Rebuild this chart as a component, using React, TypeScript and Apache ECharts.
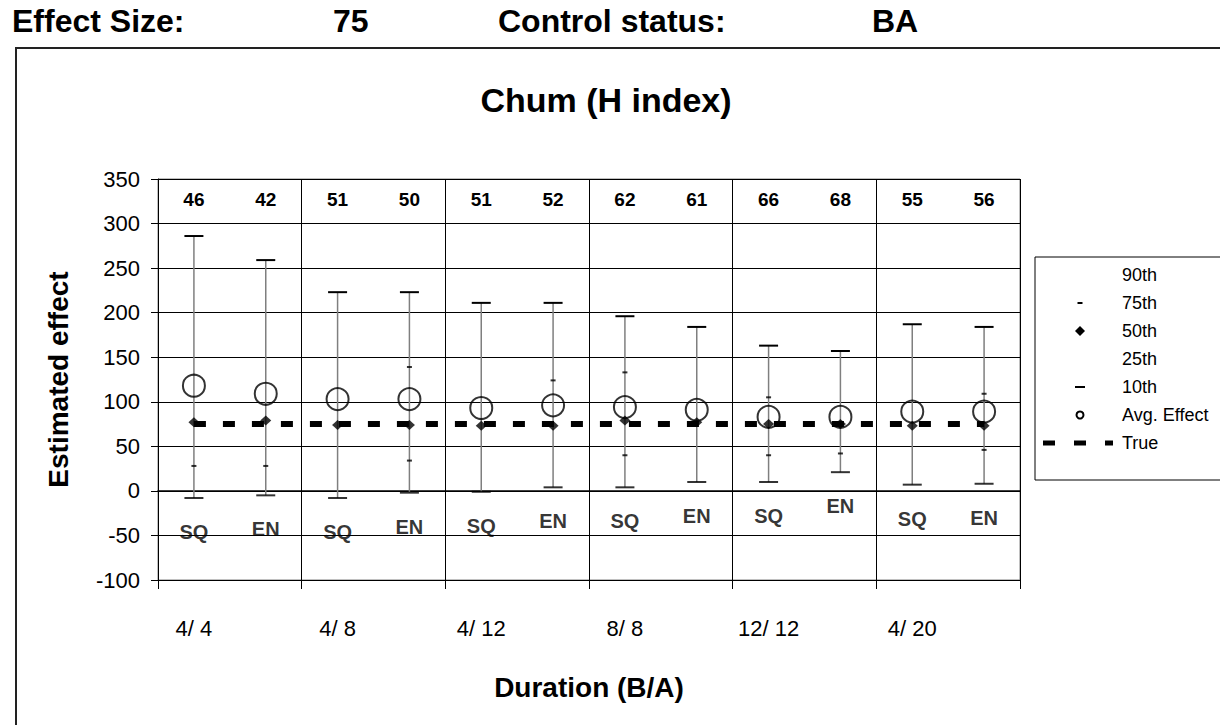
import React, { useEffect, useRef } from "react";
import * as echarts from "echarts";

// ---- data ----
const groups = ["4/ 4", "4/ 8", "4/ 12", "8/ 8", "12/ 12", "4/ 20"];
const designs = ["SQ", "EN", "SQ", "EN", "SQ", "EN", "SQ", "EN", "SQ", "EN", "SQ", "EN"];
const counts = [46, 42, 51, 50, 51, 52, 62, 61, 66, 68, 55, 56];
const p90 = [286, 259, 223, 223, 211, 211, 196, 184, 163, 157, 187, 184];
const p75 = [null, null, null, 139, null, 124, 133, null, 105, null, null, 109];
const p50 = [77, 79, 74, 74, 73, 73, 79, 77, 75, 75, 73, 73];
const p25 = [28, 28, null, 34, null, null, 40, null, 40, 42, null, 46];
const p10 = [-8, -5, -8, -2, -1, 4, 4, 10, 10, 21, 7, 8];
const avgEffect = [118, 109, 103, 103, 93, 96, 94, 91, 83, 83, 89, 89];
const trueEffect = [75, 75, 75, 75, 75, 75, 75, 75, 75, 75, 75, 75];
const yMin = -100;
const yMax = 350;
const yStep = 50;

const categories = designs.map((d, i) => groups[Math.floor(i / 2)] + " " + d);
const FONT = "'Liberation Sans', Arial, Helvetica, sans-serif";

export default function App() {
  const ref = useRef<HTMLDivElement>(null);
  useEffect(() => {
    if (!ref.current) return;
    const chart = echarts.init(ref.current, undefined, { renderer: "svg" });
    const legendItems = ["90th", "75th", "50th", "25th", "10th", "Avg. Effect", "True"];
    const lx = 1035, ly = 257, lTextX = 1122, lSymX = 1080, lStartY = 275, lStep = 28;
    const legendGraphics: any[] = [
      { type: "rect", shape: { x: lx, y: ly, width: 210, height: 223 }, style: { fill: "#fff", stroke: "#000", lineWidth: 1 }, z: 10 },
    ];
    legendItems.forEach((name, i) => {
      legendGraphics.push({
        type: "text", x: lTextX, y: lStartY + i * lStep, z: 11,
        style: { text: name, fontSize: 18, fontFamily: FONT, fill: "#000", verticalAlign: "middle", align: "left" },
      });
    });
    legendGraphics.push(
      { type: "rect", shape: { x: lSymX - 2.5, y: lStartY + lStep - 1, width: 5, height: 2 }, style: { fill: "#000" }, z: 11 },
      { type: "polygon", shape: { points: [[lSymX, lStartY + 2 * lStep - 5], [lSymX + 5, lStartY + 2 * lStep], [lSymX, lStartY + 2 * lStep + 5], [lSymX - 5, lStartY + 2 * lStep]] }, style: { fill: "#000" }, z: 11 },
      { type: "rect", shape: { x: lSymX - 5, y: lStartY + 4 * lStep - 1, width: 10, height: 2 }, style: { fill: "#000" }, z: 11 },
      { type: "circle", shape: { cx: lSymX, cy: lStartY + 5 * lStep, r: 3.5 }, style: { fill: "none", stroke: "#000", lineWidth: 2 }, z: 11 },
      { type: "line", shape: { x1: 1043, y1: lStartY + 6 * lStep, x2: 1113, y2: lStartY + 6 * lStep }, style: { stroke: "#000", lineWidth: 5, lineDash: [12, 19] }, z: 11 }
    );

    const option: any = {
      animation: false,
      backgroundColor: "#fff",
      textStyle: { fontFamily: FONT },
      graphic: [
        { type: "rect", shape: { x: 16, y: 48, width: 1400, height: 900 }, style: { fill: "none", stroke: "#222", lineWidth: 2 }, z: 0 },
        { type: "text", x: 12, y: 21, style: { text: "Effect Size:", fontSize: 32, fontWeight: "bold", fontFamily: FONT, fill: "#000", verticalAlign: "middle" } },
        { type: "text", x: 333, y: 21, style: { text: "75", fontSize: 32, fontWeight: "bold", fontFamily: FONT, fill: "#000", verticalAlign: "middle" } },
        { type: "text", x: 498, y: 21, style: { text: "Control status:", fontSize: 32, fontWeight: "bold", fontFamily: FONT, fill: "#000", verticalAlign: "middle" } },
        { type: "text", x: 872, y: 21, style: { text: "BA", fontSize: 32, fontWeight: "bold", fontFamily: FONT, fill: "#000", verticalAlign: "middle" } },
        { type: "text", x: 606, y: 100, style: { text: "Chum (H index)", fontSize: 34, fontWeight: "bold", fontFamily: FONT, fill: "#000", align: "center", verticalAlign: "middle" } },
        ...legendGraphics,
      ],
      grid: { left: 158, top: 179, width: 862, height: 401, show: true, borderColor: "#808080", borderWidth: 1, containLabel: false },
      xAxis: [
        {
          type: "category", data: categories, position: "bottom", boundaryGap: true,
          axisLine: { show: true, lineStyle: { color: "#000", width: 1.5 } },
          axisTick: { show: false },
          axisLabel: {
            interval: (i: number) => i % 2 === 0,
            formatter: (_v: string, i: number) => groups[Math.floor(i / 2)],
            fontSize: 22, color: "#000", margin: 37, fontFamily: FONT,
          },
          splitLine: { show: false },
          name: "Duration (B/A)", nameLocation: "middle", nameGap: 93,
          nameTextStyle: { fontSize: 28, fontWeight: "bold", color: "#000", fontFamily: FONT },
        },
        {
          type: "category", data: groups, position: "bottom", boundaryGap: true,
          axisLine: { show: false },
          axisTick: { show: true, length: 9, interval: 0, lineStyle: { color: "#000", width: 1 } },
          axisLabel: { show: false },
          splitLine: { show: true, interval: 0, lineStyle: { color: "#000", width: 1 } },
        },
        {
          type: "category", data: categories, position: "top", boundaryGap: true,
          axisLine: { show: false }, axisTick: { show: false },
          axisLabel: {
            inside: true, interval: 0, margin: 11,
            formatter: (_v: string, i: number) => String(counts[i]),
            fontSize: 19, fontWeight: "bold", color: "#000", fontFamily: FONT,
          },
          splitLine: { show: false },
        },
      ],
      yAxis: {
        type: "value", min: yMin, max: yMax, interval: yStep,
        axisLine: { show: true, lineStyle: { color: "#000", width: 1 } },
        axisTick: { show: true, length: 7, lineStyle: { color: "#000" } },
        axisLabel: { fontSize: 22, color: "#000", margin: 18, fontFamily: FONT },
        splitLine: { show: true, lineStyle: { color: "#000", width: 1 } },
        name: "Estimated effect", nameLocation: "middle", nameGap: 86,
        nameTextStyle: { fontSize: 28, fontWeight: "bold", color: "#000", fontFamily: FONT },
      },
      series: [
        {
          name: "90th", type: "custom", xAxisIndex: 0, z: 2,
          data: categories.map((_c, i) => [i, p10[i], p90[i]]),
          encode: { x: 0, y: [1, 2] },
          renderItem: (_params: any, api: any) => {
            const x = api.value(0);
            const lo = api.coord([x, api.value(1)]);
            const hi = api.coord([x, api.value(2)]);
            return {
              type: "group",
              children: [
                { type: "line", shape: { x1: lo[0], y1: lo[1], x2: hi[0], y2: hi[1] }, style: { stroke: "#7f7f7f", lineWidth: 1.5 } },
                { type: "line", shape: { x1: hi[0] - 9.5, y1: hi[1], x2: hi[0] + 9.5, y2: hi[1] }, style: { stroke: "#000", lineWidth: 2 } },
              ],
            };
          },
        },
        {
          name: "True", type: "line", xAxisIndex: 0, data: trueEffect, symbol: "none", z: 3,
          lineStyle: { color: "#000", width: 6, type: [12, 17], cap: "butt" },
        },
        {
          name: "75th", type: "scatter", xAxisIndex: 0, data: p75, symbol: "rect", symbolSize: [5, 2], z: 4,
          itemStyle: { color: "#000" },
        },
        {
          name: "25th", type: "scatter", xAxisIndex: 0, data: p25, symbol: "rect", symbolSize: [5, 2], z: 4,
          itemStyle: { color: "#000" },
        },
        {
          name: "50th", type: "scatter", xAxisIndex: 0, data: p50, symbol: "diamond", symbolSize: [11, 10], z: 5,
          itemStyle: { color: "#000" },
        },
        {
          name: "10th", type: "scatter", xAxisIndex: 0, data: p10, symbol: "rect", symbolSize: [19, 2], z: 5,
          itemStyle: { color: "#000" },
          label: {
            show: true, position: "bottom", distance: 23,
            formatter: (p: any) => designs[p.dataIndex],
            fontSize: 20, fontWeight: "bold", color: "#000", fontFamily: FONT,
          },
        },
        {
          name: "Avg. Effect", type: "scatter", xAxisIndex: 0, data: avgEffect, symbol: "circle", symbolSize: 22, z: 6,
          itemStyle: { color: "rgba(0,0,0,0)", borderColor: "#000", borderWidth: 2 },
        },
      ],
    };
    chart.setOption(option);
    return () => chart.dispose();
  }, []);
  return (
    <div
      ref={ref}
      style={{ position: "absolute", left: 0, top: 0, width: 1220, height: 725, background: "#fff" }}
    />
  );
}
